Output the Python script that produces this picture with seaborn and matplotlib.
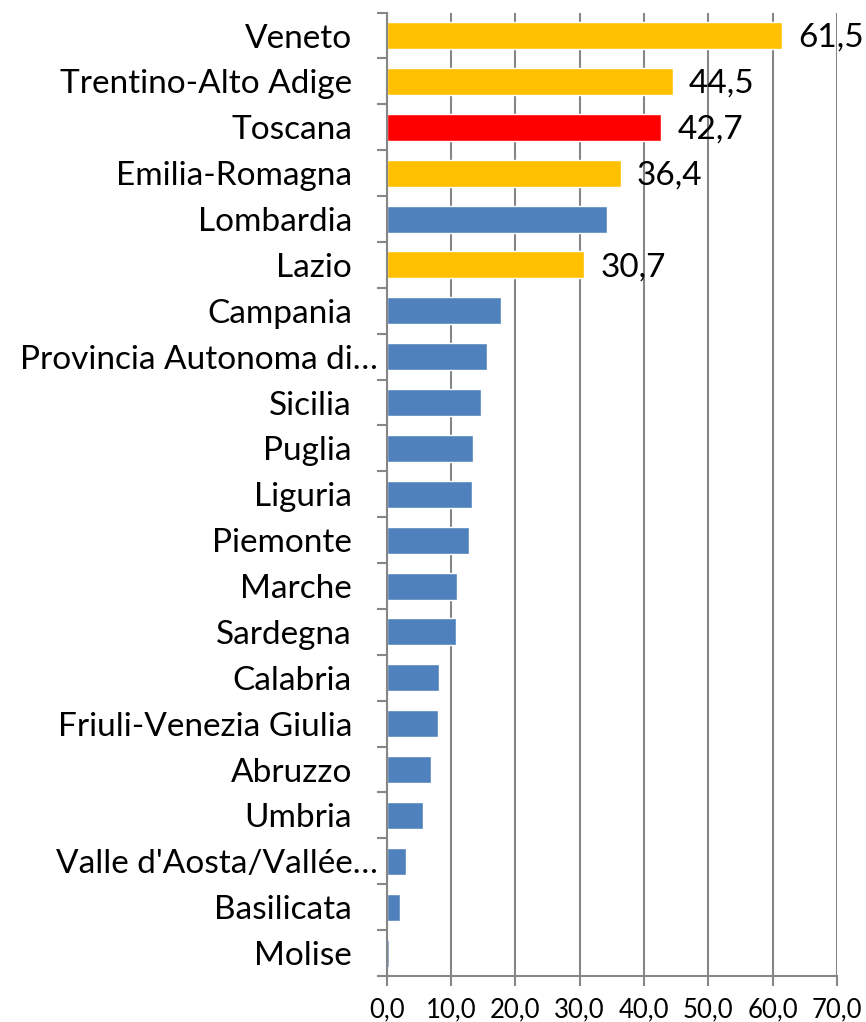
import matplotlib
matplotlib.use("Agg")
import matplotlib.pyplot as plt
import matplotlib.transforms as mtransforms
import seaborn as sns
import pandas as pd

regions = ["Veneto", "Trentino-Alto Adige", "Toscana", "Emilia-Romagna", "Lombardia",
           "Lazio", "Campania", "Provincia Autonoma di\u2026", "Sicilia", "Puglia",
           "Liguria", "Piemonte", "Marche", "Sardegna", "Calabria",
           "Friuli-Venezia Giulia", "Abruzzo", "Umbria", "Valle d'Aosta/Vall\u00e9e\u2026",
           "Basilicata", "Molise"]
values = [61.5, 44.5, 42.7, 36.4, 34.2, 30.7, 17.8, 15.6, 14.6, 13.4,
          13.2, 12.8, 11.0, 10.7, 8.1, 7.9, 6.9, 5.7, 3.0, 2.0, 0.4]
groups = ["hl", "hl", "tos", "hl", "base", "hl", "base", "base", "base", "base",
          "base", "base", "base", "base", "base", "base", "base", "base", "base",
          "base", "base"]
labelled = ["Veneto", "Trentino-Alto Adige", "Toscana", "Emilia-Romagna", "Lazio"]

colors = {"base": "#4F81BD", "hl": "#FFC000", "tos": "#FF0000"}

df = pd.DataFrame({"region": regions, "value": values, "group": groups})

sns.set_theme(style="white")
plt.rcParams['font.family'] = ['Lato', 'DejaVu Sans']
plt.rcParams['text.color'] = 'black'
plt.rcParams['xtick.color'] = 'black'
plt.rcParams['ytick.color'] = 'black'

fig = plt.figure(figsize=(8.66, 10.22), dpi=100)
ax = fig.add_axes([386.7 / 866, 46 / 1022, (837 - 386.7) / 866, (1009.4 - 46) / 1022])

sns.barplot(data=df, y="region", x="value", hue="group", palette=colors,
            order=regions, dodge=False, legend=False, width=0.59, ax=ax,
            orient="h", saturation=1)

ax.set_xlim(0, 70)
ax.set_ylim(len(regions) - 0.5, -0.5)
ax.set_xticks(range(0, 71, 10))
ax.set_xticklabels([f"{v},0" for v in range(0, 71, 10)], fontsize=18.5)
ax.xaxis.grid(True, color="#868686", linewidth=1.5)
ax.set_axisbelow(True)
ax.set_xlabel("")
ax.set_ylabel("")

ax.tick_params(axis="y", which="major", length=0, labelsize=24, pad=25)
ax.set_yticks([i - 0.5 for i in range(len(regions) + 1)], minor=True)
ax.tick_params(axis="y", which="minor", length=7, width=1.5, color="#868686", direction="out", left=True)
ax.tick_params(axis="x", which="major", length=7, width=1.5, color="#868686", direction="out", bottom=True, pad=8)

# truncated labels sit closer to the axis
shift = mtransforms.ScaledTranslation(26 / 100, 0, fig.dpi_scale_trans)
for lab in ax.get_yticklabels():
    if lab.get_text().endswith("\u2026"):
        lab.set_transform(lab.get_transform() + shift)

for side in ["top", "right"]:
    ax.spines[side].set_visible(False)
for side in ["left", "bottom"]:
    ax.spines[side].set_color("#868686")
    ax.spines[side].set_linewidth(1.5)

for i, (r, v) in enumerate(zip(regions, values)):
    if r in labelled:
        ax.text(v + 2.5, i + 0.05, f"{v:.1f}".replace(".", ","), va="center", ha="left",
                fontsize=24, color="black")

fig.savefig("out.png", dpi=100)
